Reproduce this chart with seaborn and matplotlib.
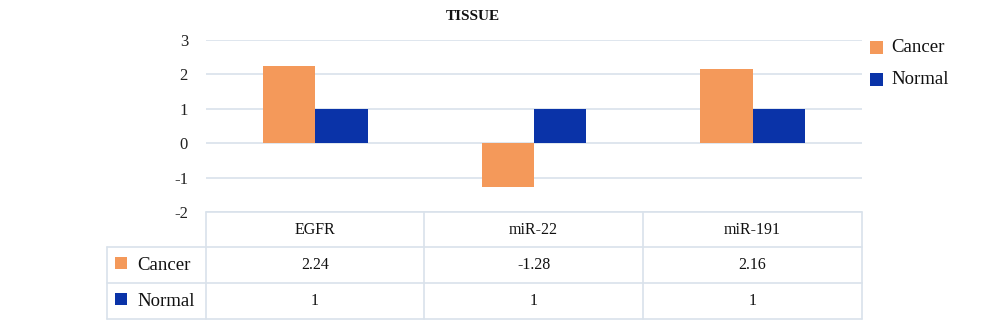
import matplotlib
matplotlib.use("Agg")
import matplotlib.pyplot as plt
import seaborn as sns
import pandas as pd
from matplotlib.patches import Rectangle

# Data
genes = ["EGFR", "miR-22", "miR-191"]
groups = ["Cancer", "Normal"]
cancer_values = [2.24, -1.28, 2.16]
normal_values = [1, 1, 1]
value_labels = {"Cancer": ["2.24", "-1.28", "2.16"], "Normal": ["1", "1", "1"]}
y_ticks = [-2, -1, 0, 1, 2, 3]
colors = {"Cancer": "#F4995A", "Normal": "#0A33A8"}
grid_color = "#D9E2EB"

df = pd.DataFrame({
    "gene": genes * 2,
    "group": ["Cancer"] * 3 + ["Normal"] * 3,
    "value": cancer_values + normal_values,
})

sns.set_theme(style="white")
plt.rcParams["font.family"] = ["Liberation Serif", "DejaVu Serif"]

W, H = 1000, 327
fig = plt.figure(figsize=(W / 100, H / 100), dpi=100)

# Chart area in pixel coordinates
x0, x1, y_top, y_bot = 206, 862, 40, 212
ax = fig.add_axes([x0 / W, 1 - y_bot / H, (x1 - x0) / W, (y_bot - y_top) / H])
sns.barplot(data=df, x="gene", y="value", hue="group", order=genes,
            hue_order=groups, palette=colors, width=0.48, linewidth=0,
            saturation=1, ax=ax, legend=False)
ax.set_ylim(-2, 3)
ax.set_xlim(-0.5, 2.5)
ax.set_yticks(y_ticks)
ax.set_yticklabels([str(t) for t in y_ticks], fontsize=12, color="#222222")
ax.tick_params(axis="y", length=0, pad=13)
ax.set_xticks([])
ax.set_xlabel("")
ax.set_ylabel("")
for s in ax.spines.values():
    s.set_visible(False)
ax.yaxis.grid(True, color=grid_color, linewidth=1.2)
ax.set_axisbelow(True)

# Overlay in pixel coordinates for title, legend and data table
ov = fig.add_axes([0, 0, 1, 1], facecolor="none")
ov.set_xlim(0, W)
ov.set_ylim(H, 0)
ov.axis("off")

ov.text(473, 16, "TISSUE", ha="center", va="center", fontsize=11,
        fontweight="bold", color="#111111")

# Legend
leg_y = [47, 79]
for g, yc in zip(groups, leg_y):
    ov.add_patch(Rectangle((870, yc - 6.5), 13, 13, color=colors[g], lw=0))
    ov.text(891, yc, g, ha="left", va="center", fontsize=13.5, color="#111111")

# Data table
col_edges = [206, 424, 643, 862]
row_edges = [212, 247, 283, 319]
left_edge = 107
lw = 1.2
# horizontal lines
ov.plot([col_edges[0], col_edges[-1]], [row_edges[0]] * 2, color=grid_color, lw=lw)
for r in row_edges[1:]:
    ov.plot([left_edge, col_edges[-1]], [r, r], color=grid_color, lw=lw)
# vertical lines
for c in col_edges:
    ov.plot([c, c], [row_edges[0], row_edges[-1]], color=grid_color, lw=lw)
ov.plot([left_edge, left_edge], [row_edges[1], row_edges[-1]], color=grid_color, lw=lw)

for i, gname in enumerate(genes):
    xc = (col_edges[i] + col_edges[i + 1]) / 2
    ov.text(xc, (row_edges[0] + row_edges[1]) / 2, gname, ha="center",
            va="center", fontsize=11.5, color="#111111")
    for j, g in enumerate(groups):
        yc = (row_edges[j + 1] + row_edges[j + 2]) / 2
        ov.text(xc, yc, value_labels[g][i], ha="center", va="center",
                fontsize=11.5, color="#111111")

for j, g in enumerate(groups):
    yc = (row_edges[j + 1] + row_edges[j + 2]) / 2
    ov.add_patch(Rectangle((115, yc - 8), 12, 12, color=colors[g], lw=0))
    ov.text(137, yc, g, ha="left", va="center", fontsize=13.5, color="#111111")

fig.savefig("out.png", dpi=100)
